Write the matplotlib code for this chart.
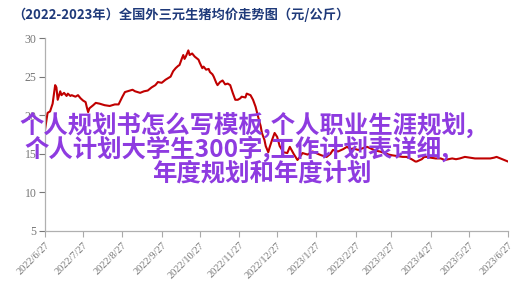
import matplotlib
matplotlib.use("Agg")
import matplotlib.pyplot as plt
import numpy as np
import pandas as pd

plt.rcParams['font.family'] = ['Noto Sans CJK SC', 'DejaVu Sans']

title = "（2022-2023年）全国外三元生猪均价走势图（元/公斤）"
overlay_lines = ["个人规划书怎么写模板,个人职业生涯规划,",
                 "个人计划大学生300字,工作计划表详细,",
                 "年度规划和年度计划"]

start_date = "2022-06-27"
day_offsets = [0, 2, 4, 6, 8, 9, 10, 12, 13, 15, 17, 18, 20, 21, 24, 26, 28, 30, 32, 33,
               34, 35, 38, 40, 43, 47, 51, 55, 58, 61, 63, 65, 69, 71, 75, 78, 81, 84, 87, 89,
               92, 95, 99, 101, 103, 105, 106, 108, 109, 110, 111, 113, 114, 116, 118, 121, 122, 124, 125, 127,
               129, 130, 132, 133, 135, 136, 138, 140, 142, 144, 146, 148, 150, 152, 154, 155, 158, 159, 162, 164,
               166, 168, 170, 171, 173, 174, 176, 177, 179, 181, 183, 185, 188, 191, 193, 196, 199, 201, 203, 207,
               211, 215, 218, 222, 225, 227, 231, 235, 238, 241, 243, 247, 250, 254, 258, 261, 264, 268, 271, 274,
               278, 282, 285, 289, 292, 293, 297, 299, 301, 304, 308, 312, 315, 318, 321, 324, 327, 331, 335, 339,
               343, 347, 351, 354, 356, 359, 362, 365]
prices = [18.1, 20.3, 20.5, 21.5, 23.9, 23.6, 22.0, 23.1, 22.6, 22.9, 22.5, 22.8, 22.5, 22.6, 22.4, 22.6, 22.2, 21.9, 21.7, 21.0,
          20.4, 20.9, 21.3, 21.6, 21.5, 21.3, 21.2, 21.4, 21.4, 22.4, 23.0, 23.1, 23.3, 23.1, 22.9, 23.1, 23.2, 23.6, 23.9, 24.3,
          24.2, 24.6, 25.0, 25.7, 26.1, 26.4, 26.5, 27.4, 27.8, 27.3, 27.6, 28.4, 27.8, 28.0, 27.6, 27.2, 26.8, 26.1, 26.3, 25.9,
          26.0, 25.6, 25.3, 25.0, 24.2, 23.9, 24.3, 24.5, 24.0, 24.1, 23.9, 22.9, 22.0, 22.0, 22.2, 22.4, 22.3, 22.8, 22.6, 22.0,
          21.1, 19.8, 18.6, 17.7, 16.8, 16.0, 15.2, 15.8, 16.8, 17.7, 17.2, 16.0, 15.2, 15.1, 15.9, 15.0, 14.2, 14.6, 15.1, 14.9,
          15.3, 15.0, 14.8, 14.6, 15.0, 15.5, 15.3, 15.6, 15.9, 15.6, 15.7, 15.5, 15.7, 15.9, 15.6, 15.4, 15.3, 15.1, 14.9, 14.8,
          14.7, 14.6, 14.6, 14.3, 14.0, 14.0, 14.3, 14.6, 14.6, 14.5, 14.4, 14.4, 14.2, 14.3, 14.4, 14.3, 14.4, 14.6, 14.5, 14.4,
          14.4, 14.4, 14.4, 14.5, 14.6, 14.4, 14.2, 14.0]

tick_dates = ["2022-06-27", "2022-07-27", "2022-08-27", "2022-09-27", "2022-10-27", "2022-11-27",
              "2022-12-27", "2023-01-27", "2023-02-27", "2023-03-27", "2023-04-27", "2023-05-27", "2023-06-27"]
tick_labels = ["2022/6/27", "2022/7/27", "2022/8/27", "2022/9/27", "2022/10/27", "2022/11/27",
               "2022/12/27", "2023/1/27", "2023/2/27", "2023/3/27", "2023/4/27", "2023/5/27", "2023/6/27"]
y_ticks = [5, 10, 15, 20, 25, 30]

dates = pd.to_datetime(start_date) + pd.to_timedelta(day_offsets, unit="D")

fig = plt.figure(figsize=(5.18, 2.95), dpi=100)
ax = fig.add_axes([0.0869, 0.217, 0.8938, 0.654])
ax.plot(dates, prices, color="#c00000", lw=1.5)

ax.set_ylim(5, 30)
ax.set_xlim(pd.to_datetime(tick_dates[0]), pd.to_datetime(tick_dates[-1]))
ax.set_yticks(y_ticks)
ax.set_xticks(pd.to_datetime(tick_dates))
ax.set_xticklabels(tick_labels, rotation=45, ha="right", rotation_mode="anchor",
                   family=["Liberation Serif"], fontsize=7.5, color="#777777")
for lab in ax.get_yticklabels():
    lab.set_family(["Liberation Serif"])
ax.tick_params(axis="y", labelsize=8.5, colors="#777777", length=4, width=0.8, pad=2)
ax.tick_params(axis="x", colors="#aaaaaa", length=4, width=0.8, pad=3)
for lab in ax.get_xticklabels():
    lab.set_color("#777777")
for s in ["top", "right"]:
    ax.spines[s].set_visible(False)
for s in ["left", "bottom"]:
    ax.spines[s].set_color("#b0b0b0")
    ax.spines[s].set_linewidth(0.9)

fig.text(12 / 518, 1 - 15 / 295, title, fontsize=9.5, fontweight="bold", color="#1f3a7a",
         ha="left", va="center")

line_left = [19, 24, 152]
line_mid = [125, 149, 173]
for line, lx, ly in zip(overlay_lines, line_left, line_mid):
    fig.text(lx / 518, 1 - ly / 295, line, fontsize=17.6, fontweight="bold",
             color="#8e3be0", ha="left", va="center")

fig.savefig("out.png", dpi=100)
